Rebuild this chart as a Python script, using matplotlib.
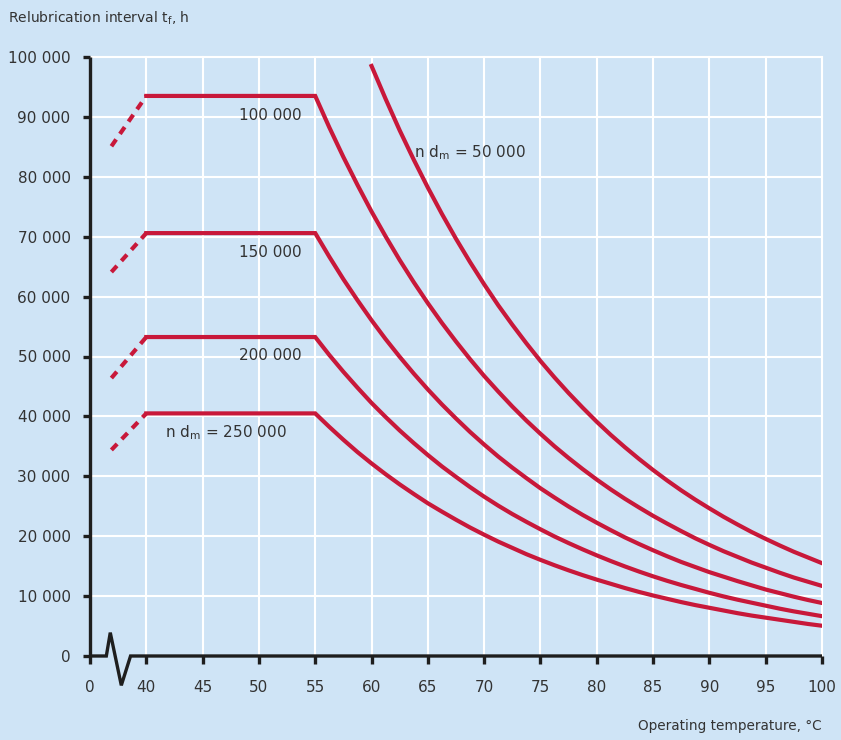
import matplotlib
matplotlib.use("Agg")
import matplotlib.pyplot as plt

# ---- data ----
temps_decay = [55, 56.25, 57.5, 58.75, 60, 61.25, 62.5, 63.75, 65, 66.25, 67.5,
               68.75, 70, 71.25, 72.5, 73.75, 75, 76.25, 77.5, 78.75, 80, 81.25,
               82.5, 83.75, 85, 86.25, 87.5, 88.75, 90, 91.25, 92.5, 93.75, 95,
               96.25, 97.5, 98.75, 100]
temps_50k = temps_decay[4:]

life_50k = [98500, 93000, 87750, 82850, 78200, 73800, 69650, 65750, 62050,
            58550, 55300, 52200, 49250, 46500, 43900, 41450, 39100, 36900,
            34850, 32900, 31050, 29300, 27650, 26100, 24650, 23250, 21950,
            20700, 19550, 18450, 17400, 16450, 15500]
life_100k = [93500, 88250, 83300, 78650, 74200, 70050, 66100, 62400, 58900,
             55600, 52500, 49550, 46750, 44150, 41650, 39300, 37100, 35000,
             33050, 31200, 29450, 27800, 26250, 24800, 23400, 22100, 20850,
             19650, 18550, 17500, 16550, 15600, 14750, 13900, 13100, 12400, 11700]
life_150k = [70600, 66650, 62900, 59400, 56050, 52900, 49950, 47150, 44500,
             42000, 39650, 37400, 35300, 33300, 31450, 29700, 28000, 26450,
             24950, 23550, 22250, 21000, 19800, 18700, 17650, 16650, 15700,
             14850, 14000, 13250, 12500, 11800, 11100, 10500, 9900, 9350, 8850]
life_200k = [53250, 50250, 47450, 44800, 42250, 39900, 37650, 35550, 33550,
             31650, 29900, 28200, 26600, 25100, 23700, 22400, 21150, 19950,
             18850, 17800, 16800, 15850, 14950, 14100, 13300, 12550, 11850,
             11200, 10550, 9950, 9400, 8900, 8400, 7900, 7450, 7050, 6650]
life_250k = [40500, 38250, 36100, 34050, 32150, 30350, 28650, 27050, 25500,
             24100, 22750, 21450, 20250, 19100, 18050, 17000, 16050, 15150,
             14300, 13500, 12750, 12050, 11350, 10700, 10100, 9550, 9000,
             8500, 8050, 7600, 7150, 6750, 6400, 6050, 5700, 5350, 5050]

# dashed start (temperature, value) and flat plateau from 40 to 55 °C
dash_start_t = 36.9
dash_start = {"100k": 85100, "150k": 64100, "200k": 46400, "250k": 34400}
plateau_t = [40, 55]

xtick_pos = [35, 40, 45, 50, 55, 60, 65, 70, 75, 80, 85, 90, 95, 100]
xtick_labels = ["0", "40", "45", "50", "55", "60", "65", "70", "75", "80",
                "85", "90", "95", "100"]
ytick_vals = [0, 10000, 20000, 30000, 40000, 50000, 60000, 70000, 80000,
              90000, 100000]
ytick_labels = ["0", "10 000", "20 000", "30 000", "40 000", "50 000",
                "60 000", "70 000", "80 000", "90 000", "100 000"]

# ---- style ----
BG = "#cfe4f6"
RED = "#c8183a"
TXT = "#333333"
AXC = "#1e1e1e"
plt.rcParams["font.family"] = ["DejaVu Sans"]
plt.rcParams["mathtext.fontset"] = "dejavusans"

fig = plt.figure(figsize=(8.41, 7.40), dpi=100, facecolor=BG)
ax = fig.add_axes([90 / 841, 84 / 740, (822 - 90) / 841, (656 - 57) / 740])
ax.set_facecolor(BG)
ax.set_xlim(35, 100)
ax.set_ylim(0, 100000)

# grid
for xv in xtick_pos[1:]:
    ax.plot([xv, xv], [0, 100000], color="white", lw=1.5, zorder=1, clip_on=False)
for yv in ytick_vals[1:]:
    ax.plot([35, 100], [yv, yv], color="white", lw=1.5, zorder=1, clip_on=False)

# curves
curves = [("100k", life_100k), ("150k", life_150k), ("200k", life_200k), ("250k", life_250k)]
for key, vals in curves:
    flat = vals[0]
    ax.plot([dash_start_t, plateau_t[0]], [dash_start[key], flat], color=RED, lw=3.0,
            linestyle=(0, (2.0, 1.6)), dash_capstyle="butt", zorder=3)
    ax.plot([plateau_t[0]] + temps_decay, [flat] + vals, color=RED, lw=3.0,
            solid_joinstyle="miter", zorder=3)
ax.plot(temps_50k, life_50k, color=RED, lw=3.0, zorder=3)

# spines / axes
for s in ax.spines.values():
    s.set_visible(False)
ax.plot([35, 35], [0, 100000], color=AXC, lw=2.4, clip_on=False, zorder=4,
        solid_capstyle="butt")
# bottom axis with break
bx = [35, 36.45, 36.8, 37.78, 38.6, 100]
by = [0, 0, 3900, -4900, 0, 0]
ax.plot(bx, by, color=AXC, lw=2.4, clip_on=False, zorder=4,
        solid_joinstyle="miter", solid_capstyle="butt")

ax.set_xticks(xtick_pos)
ax.set_xticklabels(xtick_labels)
ax.set_yticks(ytick_vals)
ax.set_yticklabels(ytick_labels)
ax.tick_params(axis="x", direction="out", length=5.5, width=2.4, color=AXC,
               pad=12, labelsize=11, labelcolor=TXT)
ax.tick_params(axis="y", direction="out", length=5, width=2.4, color=AXC,
               pad=9, labelsize=11, labelcolor=TXT)

# labels
fig.text(8 / 841, 1 - 18 / 740, r"Relubrication interval t$_\mathrm{f}$, h",
         ha="left", va="center", fontsize=10, color=TXT)
fig.text(822 / 841, 1 - 726 / 740, "Operating temperature, °C",
         ha="right", va="center", fontsize=9.8, color=TXT)

ax.text(48.2, 90300, "100 000", ha="left", va="center", fontsize=11, color=TXT)
ax.text(48.2, 67300, "150 000", ha="left", va="center", fontsize=11, color=TXT)
ax.text(48.2, 50100, "200 000", ha="left", va="center", fontsize=11, color=TXT)
ax.text(41.7, 37300, r"n d$_\mathrm{m}$ = 250 000", ha="left", va="center",
        fontsize=11, color=TXT)
ax.text(63.8, 84000, r"n d$_\mathrm{m}$ = 50 000", ha="left", va="center",
        fontsize=11, color=TXT)

fig.savefig("out.png", dpi=100, facecolor=BG)
